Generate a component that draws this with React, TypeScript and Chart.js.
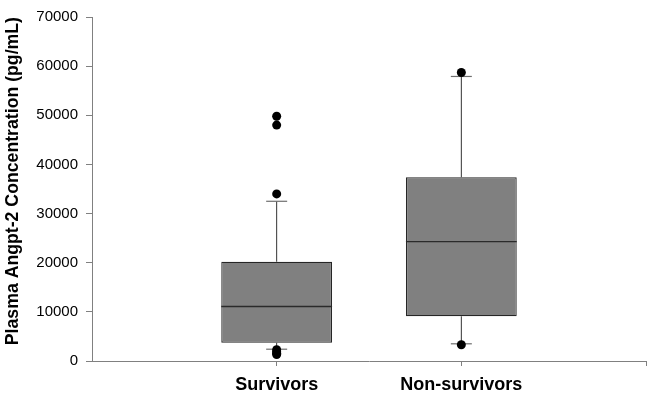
import React, { useEffect, useRef } from 'react';
import { Chart, registerables } from 'chart.js';

Chart.register(...registerables);

// ---- Data ----
const categories = ['Survivors', 'Non-survivors'];
const q1 = [3700, 9100];
const medians = [11100, 24300];
const q3 = [20200, 37400];
const whiskerLow = [2400, 3500];
const whiskerHigh = [32500, 57900];
const outliersSurvivors = [49800, 48000, 34000, 2300, 1900, 1600, 1300];
const outliersNonSurvivors = [58700, 3300];
const yTickValues = [0, 10000, 20000, 30000, 40000, 50000, 60000, 70000];

const FONT = '"Liberation Sans", Arial, Helvetica, sans-serif';
const BOX_WIDTH = 0.6; // in category units

export default function App() {
  const ref = useRef<HTMLCanvasElement>(null);

  useEffect(() => {
    document.body.style.margin = '0';
    if (!ref.current) return;
    const xs = categories.map((_, i) => i + 1);

    const boxes = xs.map((x, i) => ({ x, y: [q1[i], q3[i]] }));
    const medianSegs: any[] = [];
    xs.forEach((x, i) => {
      medianSegs.push(
        { x: x - BOX_WIDTH / 2, y: medians[i] },
        { x: x + BOX_WIDTH / 2, y: medians[i] },
        { x: x + BOX_WIDTH / 2, y: null }
      );
    });
    const whiskers: any[] = [];
    xs.forEach((x, i) => {
      whiskers.push({ x, y: whiskerLow[i] }, { x, y: q1[i] }, { x, y: null });
      whiskers.push({ x, y: q3[i] }, { x, y: whiskerHigh[i] }, { x, y: null });
    });
    const caps: any[] = [];
    xs.forEach((x, i) => {
      caps.push({ x, y: whiskerLow[i] }, { x, y: whiskerHigh[i] });
    });
    const outliers = [
      ...outliersSurvivors.map((y) => ({ x: 1, y })),
      ...outliersNonSurvivors.map((y) => ({ x: 2, y })),
    ];

    const chart = new Chart(ref.current, {
      type: 'bar',
      data: {
        datasets: [
          {
            type: 'scatter',
            data: outliers,
            backgroundColor: '#000000',
            borderColor: '#000000',
            borderWidth: 0,
            pointRadius: 4.5,
            order: 0,
          } as any,
          {
            type: 'scatter',
            data: caps,
            pointStyle: 'line',
            pointRadius: 10.5,
            borderColor: '#6e6e6e',
            borderWidth: 1.2,
            order: 1,
          } as any,
          {
            type: 'line',
            data: medianSegs,
            borderColor: '#2a2a2a',
            borderWidth: 1.4,
            pointRadius: 0,
            spanGaps: false,
            order: 2,
          } as any,
          {
            type: 'bar',
            data: boxes,
            backgroundColor: '#808080',
            borderColor: '#262626',
            borderWidth: 1.2,
            borderSkipped: false,
            grouped: false,
            barPercentage: BOX_WIDTH,
            categoryPercentage: 1,
            order: 3,
          } as any,
          {
            type: 'line',
            data: whiskers,
            borderColor: '#333333',
            borderWidth: 1,
            pointRadius: 0,
            spanGaps: false,
            order: 4,
          } as any,
        ],
      },
      options: {
        responsive: false,
        animation: false,
        devicePixelRatio: 1,
        layout: { autoPadding: false, padding: { top: 16, right: 5, left: 0, bottom: 0 } },
        plugins: {
          legend: { display: false },
          tooltip: { enabled: false },
        },
        scales: {
          x: {
            type: 'linear',
            offset: false,
            min: 0,
            max: 3,
            afterBuildTicks: (scale: any) => {
              scale.ticks = [1, 2, 3].map((v) => ({ value: v }));
            },
            afterFit: (scale: any) => {
              scale.height = 42;
              scale.paddingLeft = 0;
              scale.paddingRight = 0;
            },
            ticks: {
              autoSkip: false,
              maxRotation: 0,
              padding: 8,
              color: '#000000',
              font: { family: FONT, size: 18, weight: 'bold' },
              callback: (v: any) => categories[Number(v) - 1] ?? '',
            },
            grid: {
              display: true,
              offset: false,
              drawOnChartArea: false,
              drawTicks: true,
              tickLength: 5,
              color: '#808080',
            },
            border: { display: true, color: '#808080', width: 1 },
          },
          y: {
            type: 'linear',
            min: 0,
            max: 70000,
            afterBuildTicks: (scale: any) => {
              scale.ticks = yTickValues.map((v) => ({ value: v }));
            },
            afterFit: (scale: any) => {
              scale.width = 92;
            },
            ticks: {
              padding: 8,
              color: '#000000',
              font: { family: FONT, size: 15 },
              callback: (v: any) => String(v),
            },
            grid: {
              display: true,
              drawOnChartArea: false,
              drawTicks: true,
              tickLength: 6,
              color: '#808080',
            },
            border: { display: true, color: '#808080', width: 1 },
            title: {
              display: true,
              align: 'end',
              text: 'Plasma Angpt-2 Concentration (pg/mL)',
              color: '#000000',
              font: { family: FONT, size: 17.7, weight: 'bold' },
              padding: { top: 2, bottom: 2 },
            },
          },
        },
      } as any,
    });

    return () => chart.destroy();
  }, []);

  return (
    <div style={{ width: 651, height: 403 }}>
      <canvas ref={ref} width={651} height={403} style={{ display: 'block' }} />
    </div>
  );
}
